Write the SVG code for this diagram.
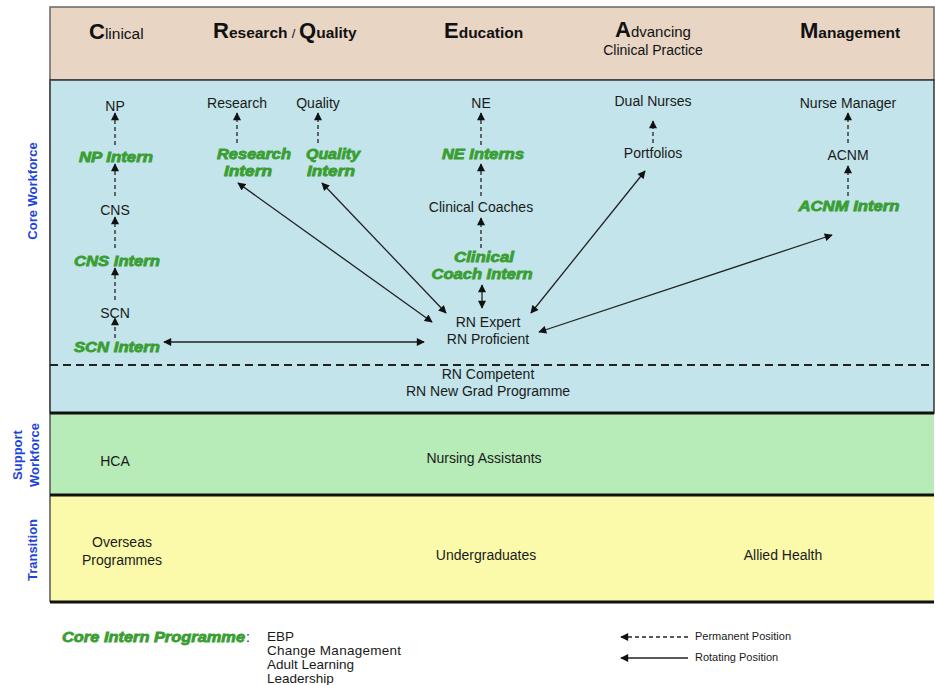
<svg xmlns="http://www.w3.org/2000/svg" width="935" height="685" viewBox="0 0 935 685">
<defs>
<marker id="ah" viewBox="0 0 10 10" refX="9" refY="5" markerWidth="9" markerHeight="8" markerUnits="userSpaceOnUse" orient="auto-start-reverse">
<path d="M0,0 L10,5 L0,10 z" fill="#111"/>
</marker>
<style>
.t{font-family:"Liberation Sans",Arial,sans-serif;font-size:14px;fill:#1a1a1a;text-anchor:middle}
.g{font-family:"Liberation Sans",Arial,sans-serif;font-size:14px;font-weight:bold;font-style:italic;fill:#3a9e32;stroke:#3a9e32;stroke-width:0.8;text-anchor:middle}
.side{font-family:"Liberation Sans",Arial,sans-serif;font-size:13px;font-weight:bold;fill:#1f45d8;text-anchor:middle}
.h{font-family:"Liberation Sans",Arial,sans-serif;fill:#111}
.big{font-size:22px;font-weight:bold}
.dash{stroke:#222;stroke-width:1.3;stroke-dasharray:4 3;fill:none;marker-end:url(#ah)}
.solid{stroke:#222;stroke-width:1.3;fill:none;marker-end:url(#ah);marker-start:url(#ah)}
</style>
</defs>
<g id="bands">
<rect x="50" y="7" width="884" height="73" fill="#e8d5c4" stroke="#666" stroke-width="1.5"/>
<rect x="50" y="80" width="884" height="333" fill="#c2e4ea" stroke="#333" stroke-width="1.5"/>
<rect x="50" y="413" width="884" height="82" fill="#b7ebb7"/>
<rect x="50" y="495" width="884" height="107" fill="#fafaaa"/>
<line x1="50" y1="80" x2="50" y2="602" stroke="#555" stroke-width="1.5"/>
<line x1="50" y1="413" x2="934" y2="413" stroke="#111" stroke-width="3"/>
<line x1="50" y1="495" x2="934" y2="495" stroke="#111" stroke-width="3"/>
<line x1="50" y1="602" x2="934" y2="602" stroke="#111" stroke-width="3"/>
<line x1="50" y1="365" x2="934" y2="365" stroke="#222" stroke-width="2" stroke-dasharray="8 5"/>
</g>
<g id="headers">
<text class="h" x="89" y="39"><tspan class="big">C</tspan><tspan font-size="15.5">linical</tspan></text>
<text class="h" x="213" y="38" font-weight="bold"><tspan class="big">R</tspan><tspan font-size="15.5">esearch </tspan><tspan font-size="13" font-weight="normal"> /  </tspan><tspan class="big">Q</tspan><tspan font-size="15.5">uality</tspan></text>
<text class="h" x="444" y="38" font-weight="bold"><tspan class="big">E</tspan><tspan font-size="15.5">ducation</tspan></text>
<text class="h" x="615" y="37"><tspan class="big">A</tspan><tspan font-size="15">dvancing</tspan></text>
<text class="h" x="653" y="55" text-anchor="middle" font-size="14" fill="#222">Clinical Practice</text>
<text class="h" x="800" y="38" font-weight="bold"><tspan class="big">M</tspan><tspan font-size="15.5">anagement</tspan></text>
</g>
<g id="side-labels">
<text class="side" x="37" y="191" transform="rotate(-90 37 191)">Core Workforce</text>
<text class="side" x="22" y="455" transform="rotate(-90 22 455)">Support</text>
<text class="side" x="39" y="455" transform="rotate(-90 39 455)">Workforce</text>
<text class="side" x="37" y="550" transform="rotate(-90 37 550)">Transition</text>
</g>
<g id="connectors">
<line class="dash" x1="115" y1="145" x2="115" y2="113"/>
<line class="dash" x1="115" y1="196" x2="115" y2="164"/>
<line class="dash" x1="115" y1="248" x2="115" y2="217"/>
<line class="dash" x1="115" y1="300" x2="115" y2="268"/>
<line class="dash" x1="115" y1="338" x2="115" y2="318"/>
<line class="dash" x1="237" y1="143" x2="237" y2="113"/>
<line class="dash" x1="318" y1="143" x2="318" y2="113"/>
<line class="dash" x1="481" y1="145" x2="481" y2="113"/>
<line class="dash" x1="481" y1="196" x2="481" y2="164"/>
<line class="dash" x1="481" y1="248" x2="481" y2="218"/>
<line class="dash" x1="653" y1="143" x2="653" y2="121"/>
<line class="dash" x1="848" y1="143" x2="848" y2="113"/>
<line class="dash" x1="848" y1="196" x2="848" y2="166"/>
<line class="solid" x1="482" y1="285" x2="482" y2="308"/>
<line class="solid" x1="164" y1="342" x2="424" y2="342"/>
<line class="solid" x1="238" y1="183" x2="432" y2="322"/>
<line class="solid" x1="322" y1="183" x2="446" y2="313"/>
<line class="solid" x1="645" y1="171" x2="531" y2="313"/>
<line class="solid" x1="832" y1="235" x2="539" y2="332"/>
</g>
<g id="clinical">
<text class="t" x="115" y="111">NP</text>
<text class="g" x="116" y="162" textLength="74" lengthAdjust="spacingAndGlyphs">NP Intern</text>
<text class="t" x="115" y="215">CNS</text>
<text class="g" x="117" y="266" textLength="86" lengthAdjust="spacingAndGlyphs">CNS Intern</text>
<text class="t" x="115" y="318">SCN</text>
<text class="g" x="117" y="352" textLength="86" lengthAdjust="spacingAndGlyphs">SCN Intern</text>
</g>
<g id="research">
<text class="t" x="237" y="108">Research</text>
<text class="g" x="254" y="159" textLength="74" lengthAdjust="spacingAndGlyphs">Research</text>
<text class="g" x="248" y="176" textLength="48" lengthAdjust="spacingAndGlyphs">Intern</text>
</g>
<g id="quality">
<text class="t" x="318" y="108">Quality</text>
<text class="g" x="333" y="159" textLength="54" lengthAdjust="spacingAndGlyphs">Quality</text>
<text class="g" x="331" y="176" textLength="48" lengthAdjust="spacingAndGlyphs">Intern</text>
</g>
<g id="education">
<text class="t" x="481" y="108">NE</text>
<text class="g" x="483" y="159" textLength="82" lengthAdjust="spacingAndGlyphs">NE Interns</text>
<text class="t" x="481" y="212">Clinical Coaches</text>
<text class="g" x="484" y="262" textLength="60" lengthAdjust="spacingAndGlyphs">Clinical</text>
<text class="g" x="482" y="279" textLength="101" lengthAdjust="spacingAndGlyphs">Coach Intern</text>
</g>
<g id="rn-expert">
<text class="t" x="488" y="327">RN Expert</text>
<text class="t" x="488" y="344">RN Proficient</text>
</g>
<g id="rn-competent">
<text class="t" x="488" y="379">RN Competent</text>
<text class="t" x="488" y="396">RN New Grad Programme</text>
</g>
<g id="advancing">
<text class="t" x="653" y="106">Dual Nurses</text>
<text class="t" x="653" y="158">Portfolios</text>
</g>
<g id="management">
<text class="t" x="848" y="108">Nurse Manager</text>
<text class="t" x="848" y="160">ACNM</text>
<text class="g" x="849" y="211" textLength="101" lengthAdjust="spacingAndGlyphs">ACNM Intern</text>
</g>
<g id="support">
<text class="t" x="115" y="466">HCA</text>
<text class="t" x="484" y="463">Nursing Assistants</text>
</g>
<g id="transition">
<text class="t" x="122" y="547">Overseas</text>
<text class="t" x="122" y="565">Programmes</text>
<text class="t" x="486" y="560">Undergraduates</text>
<text class="t" x="783" y="560">Allied Health</text>
</g>
<g id="legend">
<text class="g" x="62" y="642" textLength="183" lengthAdjust="spacingAndGlyphs" style="text-anchor:start">Core Intern Programme</text>
<text class="t" x="246" y="642" style="text-anchor:start">:</text>
<text class="t" x="267" y="641" style="text-anchor:start;font-size:13.5px">EBP</text>
<text class="t" x="267" y="655" style="text-anchor:start;font-size:13.5px" textLength="134">Change Management</text>
<text class="t" x="267" y="669" style="text-anchor:start;font-size:13.5px">Adult Learning</text>
<text class="t" x="267" y="683" style="text-anchor:start;font-size:13.5px">Leadership</text>
<line class="dash" x1="688" y1="637" x2="621" y2="637"/>
<line x1="688" y1="658" x2="621" y2="658" stroke="#222" stroke-width="1.3" marker-end="url(#ah)"/>
<text class="t" x="695" y="640" style="text-anchor:start;font-size:11px">Permanent Position</text>
<text class="t" x="695" y="661" style="text-anchor:start;font-size:11px">Rotating Position</text>
</g>
</svg>
